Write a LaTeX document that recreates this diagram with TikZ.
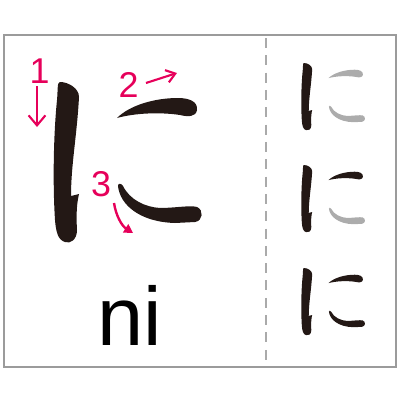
\documentclass[tikz,border=0pt]{standalone}
\usepackage{fontspec}
\setmainfont{Liberation Sans}
\usetikzlibrary{arrows.meta}
\definecolor{inkred}{RGB}{230,0,90}
\definecolor{inkblack}{RGB}{35,24,21}
\definecolor{inkgray}{RGB}{172,172,172}
\definecolor{framegray}{RGB}{155,155,155}

% the three strokes of the kana, in pixel coordinates
\newcommand{\kanani}[3]{%
  \fill[#1] (60,82) .. controls (68,82) and (79,88) .. (79,97)
    .. controls (77,135) and (71,165) .. (71,196) -- (79,194)
    .. controls (77,203) and (76,212) .. (77,230)
    .. controls (77,240) and (70,244) .. (65,242)
    .. controls (58,240) and (56,232) .. (55,220)
    .. controls (53,190) and (53,140) .. (57,100)
    .. controls (58,90) and (57,82) .. (60,82) -- cycle;
  \fill[#2] (117,118) .. controls (130,105) and (155,98) .. (178,98)
    .. controls (190,98) and (198,102) .. (197,110)
    .. controls (196,117) and (188,117) .. (180,115)
    .. controls (160,112) and (135,113) .. (117,118) -- cycle;
  \fill[#3] (118,186) .. controls (120,205) and (140,222) .. (175,223)
    -- (195,222) .. controls (203,221) and (204,210) .. (197,207)
    .. controls (190,205) and (175,208) .. (160,208)
    .. controls (145,207) and (130,200) .. (123,186)
    .. controls (121,183) and (118,183) .. (118,186) -- cycle;
}

\begin{document}
\begin{tikzpicture}[x=0.25mm, y=-0.25mm]
                      \useasboundingbox (0,0) rectangle (400,400);
                      \def\smallscale{0.42}

                      \draw[framegray, line width=2.1pt] (4,35) rectangle (396,367);
                      \coordinate (dashtop) at (266,38);
                      \coordinate (dashbot) at (266,362);
                      \draw[framegray!85, line width=2.1pt, dash pattern=on 2.5mm off 1.83mm] (dashtop) -- (dashbot);

                      % large character
                      \kanani{inkblack}{inkblack}{inkblack}

                      \node[anchor = base, inkred, font=\fontsize{25.5}{25.5}\selectfont, inner sep=0] (numone) at (39.5,83) {1};
                      \node[anchor = base, inkred, font=\fontsize{25.5}{25.5}\selectfont, inner sep=0] (numtwo) at (128.5,97) {2};
                      \node[anchor = base, inkred, font=\fontsize{25.5}{25.5}\selectfont, inner sep=0] (numthree) at (101,196) {3};
                      \node[anchor = base, font=\fontsize{59}{59}\selectfont, inner sep=0] (romaji) at (129.5,345) {ni};

                      \coordinate (aonestart) at (37,86);
                      \coordinate (aoneend) at (37,127);
                      \coordinate (atwostart) at (146,83);
                      \coordinate (atwoend) at (177,73);
                      \coordinate (athreestart) at (114,203);
                      \coordinate (athreeend) at (133,233);
                      \draw[inkred, line width=1.5pt, -{Straight Barb[length=2.5mm, width=4.2mm]}] (aonestart) -- (aoneend);
                      \draw[inkred, line width=1.5pt, -{Straight Barb[length=2.2mm, width=3.2mm]}] (atwostart) -- (atwoend);
                      \draw[inkred, line width=1.7pt, -{Triangle[length=2.2mm, width=2.4mm]}] (athreestart) .. controls (116,216) and (122,226) .. (athreeend);

                      % stroke order column
                      \begin{scope}[shift={(304,63)}, xscale=0.43, yscale=\smallscale, shift={(-60,-82)}]
                        \kanani{inkblack}{inkgray}{inkgray}
                      \end{scope}
                      \begin{scope}[shift={(304,165)}, xscale=0.43, yscale=\smallscale, shift={(-60,-82)}]
                        \kanani{inkblack}{inkblack}{inkgray}
                      \end{scope}
                      \begin{scope}[shift={(304,268)}, xscale=0.43, yscale=\smallscale, shift={(-60,-82)}]
                        \kanani{inkblack}{inkblack}{inkblack}
                      \end{scope}
                    \end{tikzpicture}
\end{document}
